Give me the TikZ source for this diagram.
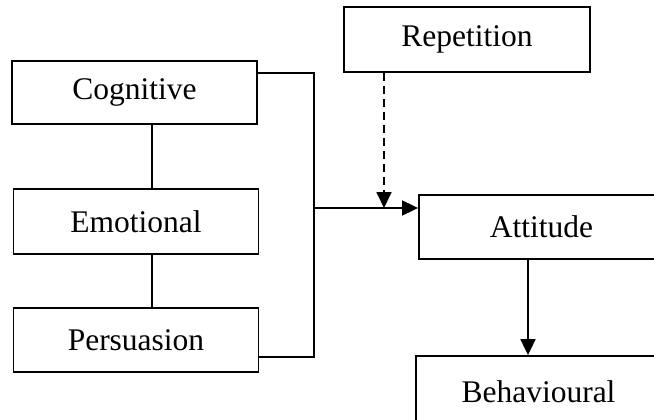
\documentclass[tikz,border=0pt]{standalone}
\usepackage{fontspec}
\setmainfont{Liberation Serif}
\usetikzlibrary{arrows.meta}

\begin{document}
\begin{tikzpicture}[x=1pt, y=-1pt, line width=1.6pt,
      blk/.style={draw, line width=1.8pt, inner sep=0pt, minimum width=245pt,
                  minimum height=64pt, font=\fontsize{31.5}{37}\selectfont},
      arr/.style={-{Triangle[length=16pt, width=15pt]}, line width=1.8pt},
      dsh/.style={arr, dash pattern=on 8pt off 5pt}]

    % ---- Frame ----
    \useasboundingbox (0,0) rectangle (654,420);
    \clip (0,0) rectangle (654,420);

    % ---- Layout ----
    \def\lx{136}     % left column x
    \def\bx{314}     % bracket x
    \def\jy{208}     % junction y

    % ---- Left column ----
    \node[blk, minimum height=63pt] (cog) at (134.5, 92.5) {Cognitive};
    \node[blk, minimum height=65pt] (emo) at (\lx, 221.5)  {Emotional};
    \node[blk]                      (per) at (\lx, 340)    {Persuasion};

    % ---- Right side ----
    \node[blk, minimum width=246pt, minimum height=65pt] (rep) at (467, 39.5) {Repetition};
    \node[blk] (att) at (541.5, 227) {Attitude};
    \node[blk, minimum height=72pt] (beh) at (538.5, 392) {Behavioural};

    % ---- Helper points ----
    \coordinate (vx) at (152, 0);
    \coordinate (brt) at (\bx, 73);
    \coordinate (brb) at (\bx, 357);
    \coordinate (jn) at (\bx, \jy);
    \coordinate (dx) at (384, 0);
    \coordinate (ax) at (528, 0);

    % ---- Column links ----
    \draw (cog.south -| vx) -- (emo.north -| vx);
    \draw (emo.south -| vx) -- (per.north -| vx);

    % ---- Bracket into Attitude ----
    \draw (cog.east |- brt) -- (brt) -- (brb) -- (per.east |- brb);
    \draw[arr] (jn) -- (att.west |- jn);

    % ---- Repetition (dashed) ----
    \draw[dsh] (rep.south -| dx) -- (dx |- jn);

    % ---- Attitude to Behavioural ----
    \draw[arr] (att.south -| ax) -- (beh.north -| ax);

\end{tikzpicture}
\end{document}
